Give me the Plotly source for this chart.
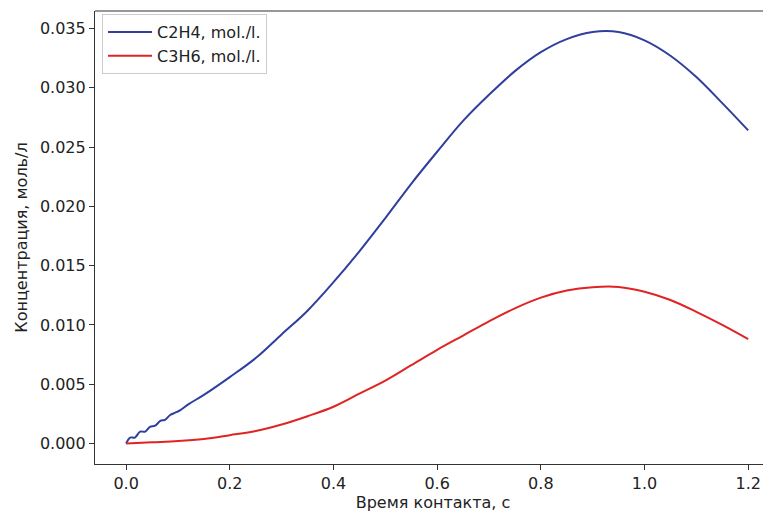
import plotly.graph_objects as go

# Contact time, s
t_c2h4 = [0, 0.008, 0.017, 0.027, 0.037, 0.046, 0.056, 0.066, 0.075, 0.085, 0.095, 0.104,
          0.12, 0.15, 0.20, 0.25, 0.30, 0.35, 0.40, 0.45, 0.50, 0.55, 0.60, 0.65,
          0.70, 0.75, 0.80, 0.85, 0.90, 0.95, 1.00, 1.05, 1.10, 1.15, 1.20]
c2h4 = [0, 0.0005, 0.0005, 0.0010, 0.0010, 0.0014, 0.0015, 0.0019, 0.0020, 0.0024, 0.0026, 0.0028,
        0.0033, 0.0041, 0.0056, 0.0072, 0.0092, 0.0112, 0.0136, 0.0162, 0.0190, 0.0219,
        0.0246, 0.0272, 0.0294, 0.0314, 0.0330, 0.0341, 0.0347, 0.0347, 0.0340, 0.0327,
        0.0309, 0.0287, 0.0264]

t_c3h6 = [0, 0.05, 0.10, 0.15, 0.20, 0.25, 0.30, 0.35, 0.40, 0.45, 0.50, 0.55, 0.60, 0.65,
          0.70, 0.75, 0.80, 0.85, 0.90, 0.95, 1.00, 1.05, 1.10, 1.15, 1.20]
c3h6 = [0, 0.0001, 0.0002, 0.00038, 0.0007, 0.00105, 0.0016, 0.0023, 0.0031, 0.0042, 0.0053,
        0.0066, 0.0079, 0.0091, 0.0103, 0.0114, 0.0123, 0.0129, 0.01318, 0.0132, 0.0128,
        0.0121, 0.0111, 0.0100, 0.0088]

names = ["C2H4, mol./l.", "C3H6, mol./l."]
x_title = "Время контакта, с"
y_title = "Концентрация, моль/л"

fig = go.Figure()
fig.add_trace(go.Scatter(x=t_c2h4, y=c2h4, mode="lines", name=names[0],
                         line=dict(color="#2f3f9e", width=2, shape="spline", smoothing=1.0)))
fig.add_trace(go.Scatter(x=t_c3h6, y=c3h6, mode="lines", name=names[1],
                         line=dict(color="#e02424", width=2, shape="spline", smoothing=1.0)))

font = dict(family="DejaVu Sans", size=16, color="#222")
axis_common = dict(showgrid=False, zeroline=False, showline=True, linecolor="#333",
                   linewidth=1.2, ticks="outside", ticklen=5, tickcolor="#333",
                   tickfont=font, automargin=False)

# page body has an 8px default margin, so the figure is offset by 8px
fig.update_layout(
    width=763, height=505,
    margin=dict(l=87, r=0, t=3, b=49),
    paper_bgcolor="white", plot_bgcolor="white",
    font=font,
    xaxis=dict(range=[-0.06, 1.244], dtick=0.2, tick0=0, tickformat=".1f",
               title=dict(text=x_title, font=font, standoff=4), **axis_common),
    yaxis=dict(range=[-0.00173, 0.03647], dtick=0.005, tick0=0, tickformat=".3f",
               title=dict(text=y_title, font=font, standoff=8), **axis_common),
    legend=dict(x=0.0104, y=0.993, xanchor="left", yanchor="top",
                bordercolor="#cccccc", borderwidth=1, bgcolor="rgba(255,255,255,0.8)",
                font=font, tracegroupgap=0, itemwidth=44),
    showlegend=True,
)
fig.add_shape(type="line", xref="paper", yref="paper", x0=0, x1=1, y0=1, y1=1,
              line=dict(color="#333", width=1.2))

fig.write_html("out.html")
